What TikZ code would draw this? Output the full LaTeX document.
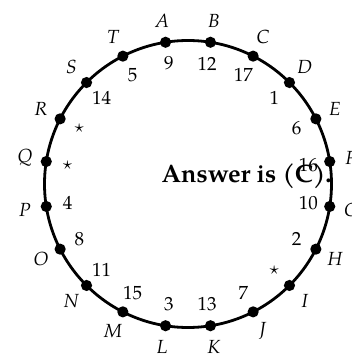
\documentclass[tikz,border=0pt]{standalone}
\usepackage{fontspec}
\setmainfont{TeX Gyre Pagella}
\begin{document}
\begin{tikzpicture}[x=0.5pt,y=0.5pt,
  dot/.style={circle,fill=black,inner sep=0pt,minimum size=5.6pt},
  outer/.style={inner sep=0pt,font=\fontsize{9.5}{11}\selectfont\itshape},
  inner/.style={inner sep=0pt,font=\fontsize{9.5}{11}\selectfont},
  answer/.style={inner sep=0pt,font=\fontsize{12.6}{15}\selectfont\bfseries}]
\useasboundingbox (0,0) rectangle (352,354);
\coordinate (c) at (188,170);
\draw[line width=1.4pt] (c) circle[radius=143.5];
\foreach \n/\v [count=\i from 0] in {A/9,B/12,C/17,D/1,E/6,F/16,G/10,H/2,I/$\star$,J/7,K/13,L/3,M/15,N/11,O/8,P/4,Q/$\star$,R/$\star$,S/14,T/5}{
  \pgfmathsetmacro\ang{99-18*\i}
  \node[dot] (p\n) at ([shift={(c)}]\ang:143.5) {};
  \node[outer] (l\n) at ([shift={(c)}]\ang:165) {\n};
  \node[inner] (v\n) at ([shift={(c)}]\ang:122) {\v};
}
\node[answer,anchor=base] (ans) at (246.7,171.7) {Answer is (C).};
\end{tikzpicture}
\end{document}
